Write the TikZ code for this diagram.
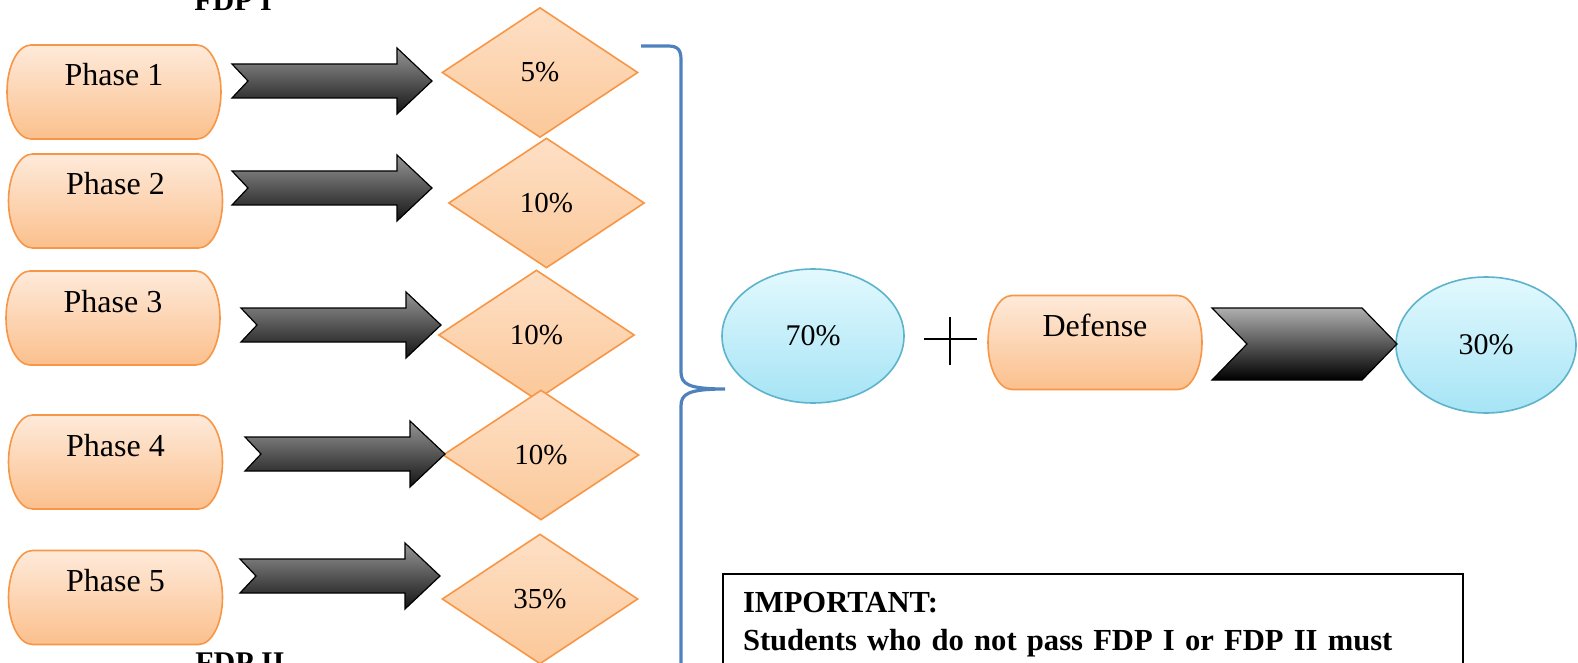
\documentclass[tikz,border=0pt]{standalone}
\usepackage{fontspec}
\setmainfont{Liberation Serif}
\usetikzlibrary{shapes.geometric}
\definecolor{phasetop}{HTML}{FEEADA}
\definecolor{phasebot}{HTML}{FBC08D}
\definecolor{phaseline}{HTML}{F79646}
\definecolor{scoretop}{HTML}{FEE0C6}
\definecolor{scorebot}{HTML}{FBC899}
\definecolor{ovaltop}{HTML}{E2F9FE}
\definecolor{ovalbot}{HTML}{A6E4F5}
\definecolor{ovalline}{HTML}{5DB3CB}
\definecolor{bracecol}{HTML}{4F81BD}
\tikzstyle{phase} = [rectangle, minimum width=107pt, minimum height=47pt, inner sep=0pt, text height=20.5pt, text depth=26.5pt, font=\fontsize{16}{19}\selectfont]
\tikzstyle{phaseshape} = [draw=phaseline, line width=0.8pt, top color=phasetop, bottom color=phasebot]
\tikzstyle{score} = [diamond, aspect=1.5, minimum width=98pt, minimum height=65pt, inner sep=0pt, draw=phaseline, line width=0.8pt, top color=scoretop, bottom color=scorebot, font=\fontsize{14.5}{17}\selectfont]
\tikzstyle{oval} = [ellipse, inner sep=0pt, draw=ovalline, line width=0.8pt, top color=ovaltop, bottom color=ovalbot, font=\fontsize{15}{18}\selectfont]
\tikzstyle{darkarrow} = [draw=black, line width=0.6pt, top color={rgb,255:red,150;green,150;blue,150}, bottom color={rgb,255:red,20;green,20;blue,20}]
\tikzstyle{fdp} = [inner sep=0pt, font=\bfseries\fontsize{15}{18}\selectfont]
\tikzstyle{notebox} = [draw=black, line width=1pt, align=left, text width=350pt, inner xsep=10pt, inner ysep=9pt, text depth=50pt, font=\bfseries\fontsize{15.3}{19}\selectfont]
\tikzset{notcharrow/.pic={
	\draw[darkarrow] (0,-17) -- (165,-17) -- (165,-33) -- (200,0) -- (165,33) -- (165,17) -- (0,17) -- (16,0) -- cycle;
}}
\newcommand{\phasebox}[3]{
	\draw[phaseshape] (#2) ++(-41.5pt,23.5pt) -- ++(83pt,0pt) arc[start angle=90, end angle=-90, x radius=12pt, y radius=23.5pt] -- ++(-83pt,0pt) arc[start angle=270, end angle=90, x radius=12pt, y radius=23.5pt] -- cycle;
	\node (#1) [phase] at (#2) {#3};
}

\begin{document}
\begin{tikzpicture}[x=0.5pt, y=-0.5pt]
	\useasboundingbox (0,0) rectangle (1578,663);
	\clip (0,0) rectangle (1578,663);

	\node (fdp1) [fdp, anchor=base west] at (194,11) {FDP I};
	\node (fdp2) [fdp, anchor=base west] at (195,672) {FDP II};

	\phasebox{ph1}{114,92}{Phase 1}
	\phasebox{ph2}{115.5,201}{Phase 2}
	\phasebox{ph3}{113,318}{Phase 3}
	\phasebox{ph4}{115.5,462}{Phase 4}
	\phasebox{ph5}{115.5,597.5}{Phase 5}

	\node (sc1) [score] at (540,72.5) {5\%};
	\node (sc2) [score] at (546.5,203) {10\%};
	\node (sc3) [score] at (536.5,335) {10\%};
	\node (sc4) [score] at (541,455) {10\%};
	\node (sc5) [score] at (540,599) {35\%};

	\pic at (232,81) {notcharrow};
	\pic at (232,188) {notcharrow};
	\pic at (241,325) {notcharrow};
	\pic at (245,454) {notcharrow};
	\pic at (240,576) {notcharrow};

	\draw [bracecol, line width=1.6pt] (641,46) -- (668,46) .. controls (678,46) and (681,50) .. (681,60) -- (681,372) .. controls (681,384) and (688,389) .. (725,389) .. controls (688,389) and (681,394) .. (681,406) -- (681,680);

	\node (part) [oval, minimum width=91pt, minimum height=67pt] at (813,336) {70\%};
	\draw [line width=1pt] (924,339) -- (977,339) (950,317) -- (950,365);
	\phasebox{def}{1095,342.5}{Defense}
	\node (res) [oval, minimum width=90pt, minimum height=68pt] at (1486,345) {30\%};
	\draw [darkarrow, top color={rgb,255:red,175;green,175;blue,175}, bottom color=black] (1212,308) -- (1362,308) -- (1397,344) -- (1362,380) -- (1212,380) -- (1247,344) -- cycle;

	\node (note) [notebox, anchor=north west] at (722,573) {IMPORTANT:\\Students who do not pass FDP I or FDP II must};

\end{tikzpicture}
\end{document}
